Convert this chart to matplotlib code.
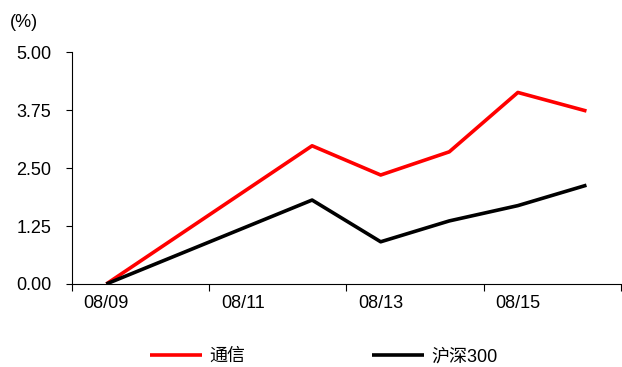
import matplotlib.pyplot as plt

plt.rcParams['font.family'] = ['Liberation Sans', 'Noto Sans CJK SC', 'DejaVu Sans']

# Daily cumulative returns, August (day of month)
days = [9, 12, 13, 14, 15, 16]
telecom = [0.00, 2.98, 2.35, 2.85, 4.13, 3.73]
hs300 = [0.00, 1.81, 0.91, 1.36, 1.69, 2.13]
tick_days = [9, 11, 13, 15]
tick_labels = ['08/09', '08/11', '08/13', '08/15']
y_ticks = [0.00, 1.25, 2.50, 3.75, 5.00]

fig = plt.figure(figsize=(6.22, 3.67), dpi=100)
ax = fig.add_axes([0.1158, 0.2262, 0.8822, 0.6318])

ax.plot(days, telecom, color='#ff0000', lw=2.6, label='通信',
        solid_joinstyle='round', solid_capstyle='butt')
ax.plot(days, hs300, color='black', lw=2.6, label='沪深300',
        solid_joinstyle='round', solid_capstyle='butt')

ax.set_xlim(8.5, 16.5)
ax.set_ylim(0, 5)

# tick marks sit between the labelled days
ax.set_xticks([8.5, 10.5, 12.5, 14.5, 16.5])
ax.set_xticklabels([])
ax.set_xticks(tick_days, minor=True)
ax.set_xticklabels(tick_labels, minor=True)
ax.tick_params(axis='x', which='major', length=5, width=0.8, direction='out')
ax.tick_params(axis='x', which='minor', length=0, pad=8, labelsize=13)

ax.set_yticks(y_ticks)
ax.set_yticklabels(['%.2f' % v for v in y_ticks])
ax.tick_params(axis='y', length=4, width=0.8, direction='out', pad=11, labelsize=13)

for side in ['top', 'right']:
    ax.spines[side].set_visible(False)
for side in ['left', 'bottom']:
    ax.spines[side].set_linewidth(0.8)

fig.text(0.016, 0.94, '(%)', fontsize=13, va='center', ha='left')

fig.legend(loc='center left', bbox_to_anchor=(0.241, 0.028), ncol=2, frameon=False,
           fontsize=13, handlelength=2.9, handletextpad=0.4, columnspacing=7.0,
           borderpad=0, borderaxespad=0)

fig.savefig('out.png', dpi=100)
